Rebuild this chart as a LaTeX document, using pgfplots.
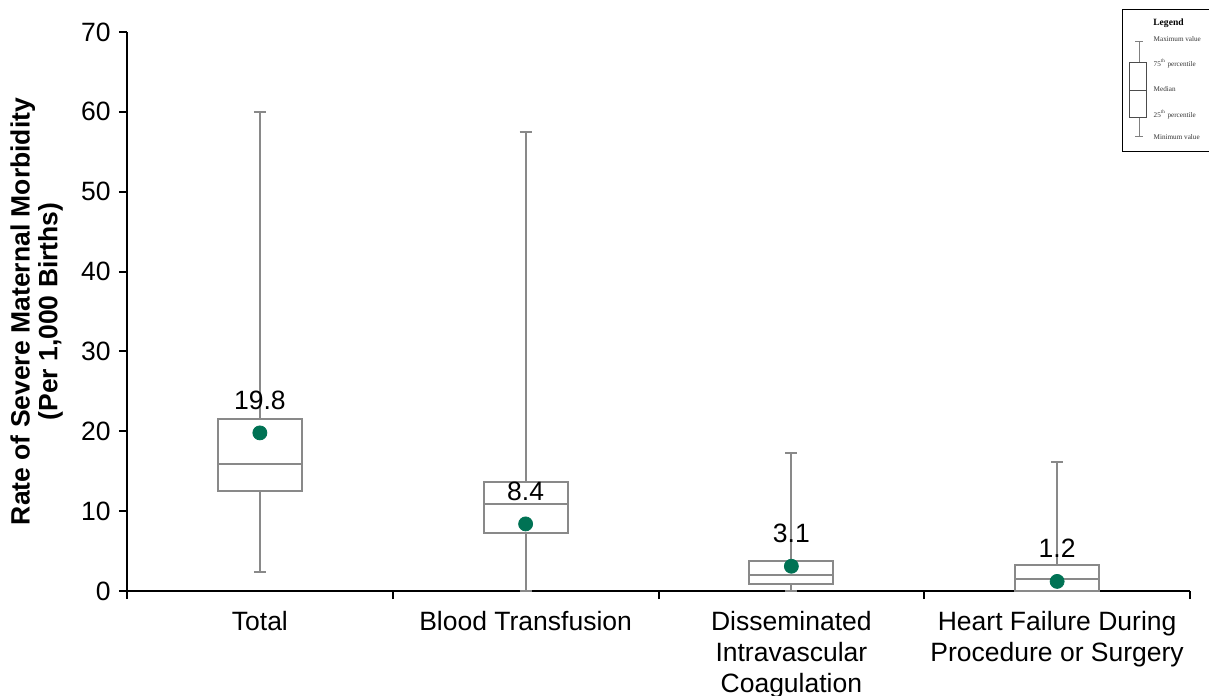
\documentclass[border=0pt]{standalone}
\usepackage{pgfplots}
\pgfplotsset{compat=1.18}
\usepgfplotslibrary{statistics}
\usepackage{fontspec}
\setmainfont{Liberation Sans}
\newfontfamily\legfont{Liberation Serif}
\definecolor{boxgray}{RGB}{137,137,137}
\definecolor{sgreen}{RGB}{0,114,84}
\begin{document}
\begin{tikzpicture}
\useasboundingbox (-63.5bp,-52.5bp) rectangle (541bp,295.5bp);
\begin{axis}[
  at={(0,0)}, anchor=south west,
  scale only axis, width=531.5bp, height=279.5bp,
  xmin=-0.5, xmax=3.5, ymin=0, ymax=70,
  axis x line*=bottom, axis y line*=left,
  axis line style={black, line width=1bp},
  tick style={black, line width=1bp},
  tick align=outside, major tick length=4bp,
  ytick={0,10,...,70},
  xtick={-0.5,0.5,1.5,2.5,3.5}, xticklabels={},
  extra x ticks={0,1,2,3},
  extra x tick labels={Total, Blood Transfusion, {Disseminated\\Intravascular\\Coagulation}, {Heart Failure During\\Procedure or Surgery}},
  extra x tick style={major tick length=0pt, tick label style={align=center, font=\fontsize{13.3}{15.5}\selectfont, inner sep=0pt, anchor=north, yshift=-10bp}},
  /pgf/number format/assume math mode=true,
  tick label style={font=\fontsize{13.3}{15.5}\selectfont},
  yticklabel style={inner sep=0pt, anchor=east, xshift=-4bp},
  every axis y label/.style={at={(axis description cs:-0.085,0.5)}, rotate=90, anchor=center, align=center, inner sep=0pt, font=\fontsize{13.3}{14}\selectfont\bfseries},
  ylabel={Rate of Severe Maternal Morbidity\\(Per 1,000 Births)},
  boxplot/draw direction=y,
  clip=false,
]
\addplot[draw=boxgray, line width=1bp, solid, boxplot prepared={median=15.9, upper quartile=21.5, lower quartile=12.5, upper whisker=60.0, lower whisker=2.35, draw position=0, box extend=0.316, whisker extend=0.045}] coordinates {};
\addplot[draw=boxgray, line width=1bp, solid, boxplot prepared={median=10.9, upper quartile=13.65, lower quartile=7.26, upper whisker=57.5, lower whisker=0, draw position=1, box extend=0.316, whisker extend=0.045}] coordinates {};
\addplot[draw=boxgray, line width=1bp, solid, boxplot prepared={median=2.0, upper quartile=3.76, lower quartile=0.84, upper whisker=17.3, lower whisker=0, draw position=2, box extend=0.316, whisker extend=0.045}] coordinates {};
\addplot[draw=boxgray, line width=1bp, solid, boxplot prepared={median=1.55, upper quartile=3.2, lower quartile=0, upper whisker=16.2, lower whisker=0, draw position=3, box extend=0.316, whisker extend=0.045}] coordinates {};
\addplot[only marks, mark=*, mark size=3.5bp, color=sgreen,
  nodes near coords, point meta=explicit symbolic,
  nodes near coords style={black, anchor=base, yshift=11.75bp, font=\fontsize{13.3}{15.5}\selectfont}]
  coordinates {(0,19.8)[19.8] (1,8.4)[8.4] (2,3.1)[3.1] (3,1.2)[1.2]};
\end{axis}
% legend inset
\draw[black, line width=0.5bp] (497.85bp,219.65bp) rectangle (548bp,290.5bp);
\node[font=\legfont\fontsize{4.8}{5}\selectfont\bfseries, inner sep=0pt] at (520.75bp,284bp) {Legend};
\begin{scope}[draw=gray, line width=0.4bp]
\draw (506bp,227.15bp) -- (506bp,236.85bp);
\draw (506bp,264.35bp) -- (506bp,274.65bp);
\draw (504bp,274.65bp) -- (508bp,274.65bp);
\draw (504bp,227.15bp) -- (508bp,227.15bp);
\draw[black!70] (501.15bp,236.85bp) rectangle (509.5bp,264.35bp);
\draw[black!70] (501.15bp,250.5bp) -- (509.5bp,250.5bp);
\end{scope}
\begin{scope}[every node/.style={anchor=west, inner sep=0pt, text=black!80, font=\legfont\fontsize{3.6}{4}\selectfont}]
\node at (513.15bp,275.85bp) {Maximum value};
\node at (513.15bp,263.85bp) {75\textsuperscript{th} percentile};
\node at (513.15bp,250.85bp) {Median};
\node at (513.15bp,238bp) {25\textsuperscript{th} percentile};
\node at (513.15bp,227.15bp) {Minimum value};
\end{scope}
\end{tikzpicture}
\end{document}
